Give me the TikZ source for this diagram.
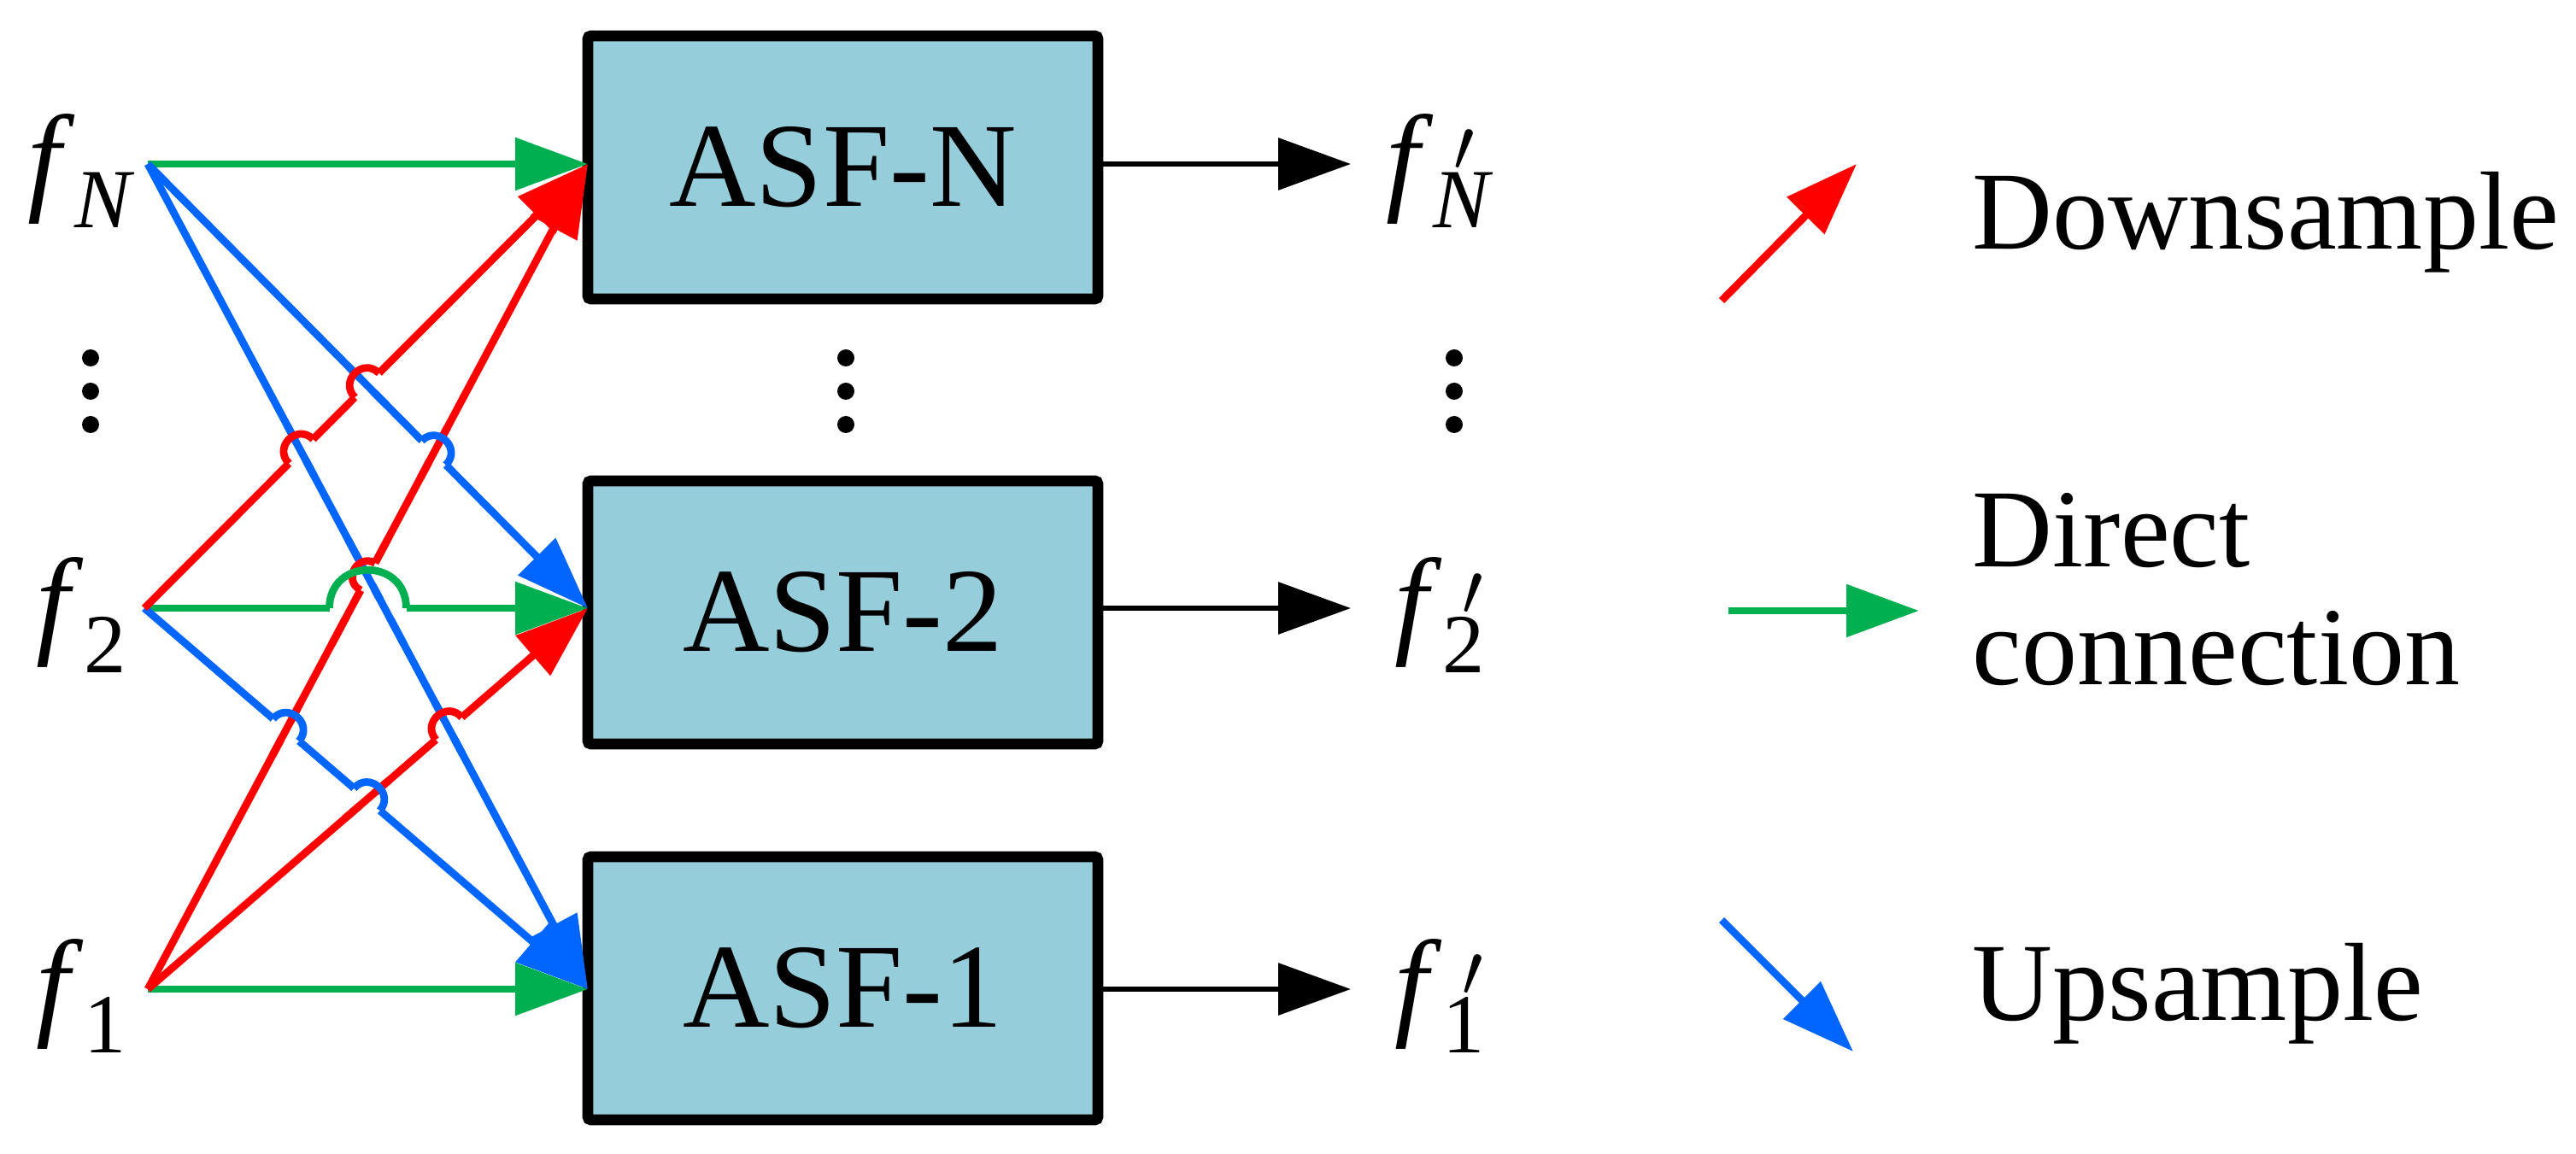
\documentclass[tikz,border=0pt]{standalone}
\usepackage{fontspec}
\setmainfont{Liberation Serif}
\usetikzlibrary{arrows.meta,calc,intersections}
\definecolor{boxc}{HTML}{96CDDB}
\definecolor{rd}{HTML}{FF0000}
\definecolor{gr}{HTML}{00B050}
\definecolor{bl}{HTML}{0066FF}
\tikzset{
 box/.style={draw=black,line width=3.6pt,fill=boxc,rounded corners=1pt,minimum width=5.97cm,minimum height=3.08cm,inner sep=0pt,font=\fontsize{40}{46}\selectfont},
 ln/.style={line width=2.5pt},
 tip/.style={-{Triangle[length=0.85cm,width=0.6cm]}},
 lab/.style={font=\fontsize{40}{46}\selectfont,inner sep=0pt},
 leg/.style={font=\fontsize{37}{42}\selectfont,inner sep=0pt,anchor=west,align=left},
 dot/.style={fill=black,circle,inner sep=0pt,minimum size=0.2cm}
}
\newcommand\myhop[8]{% S E X r col S2 E2 col2
 \draw[white,line width=6.5pt] ($(#3)!#4!(#1)$) -- ($(#3)!#4!(#2)$);
 \draw[#8,ln] ($(#3)!1.7*#4!(#6)$) -- ($(#3)!1.7*#4!(#7)$);
 \draw[#5,ln] let \p1=(#1),\p2=(#2),\n1={atan2(\y2-\y1,\x2-\x1)+90} in
   ($(#3)!#4!(#1)$) to[out=\n1,in=\n1,looseness=1.7] ($(#3)!#4!(#2)$);
}
\newcommand\fp[1]{\textit{f}\rlap{\,\textsuperscript{$\prime$}}\textsubscript{#1}}
\begin{document}
\begin{tikzpicture}
\useasboundingbox (0,0) rectangle (30.15,13.5);
% boxes
\node[box] (bN) at (9.865,11.54) {ASF-N};
\node[box] (b2) at (9.865,6.33) {ASF-2};
\node[box] (b1) at (9.865,1.93) {ASF-1};
\coordinate (TN) at (6.88,11.58);
\coordinate (T2) at (6.88,6.38);
\coordinate (T1) at (6.88,1.92);
\coordinate (FN) at (1.73,11.58);
\coordinate (F2) at (1.69,6.38);
\coordinate (F1) at (1.73,1.92);
% labels
\node[lab] (lN) at (0.96,11.5) {\textit{f}\textsubscript{\textit{N}}};
\node[lab] (l2) at (0.96,6.3) {\textit{f}\textsubscript{2}};
\node[lab] (l1) at (0.96,1.84) {\textit{f}\textsubscript{1}};
\node[lab] (oN) at (16.86,11.5) {\fp{\textit{N}}};
\node[lab] (o2) at (16.86,6.3) {\fp{2}};
\node[lab] (o1) at (16.86,1.84) {\fp{1}};
\coordinate (eN) at (15.81,11.58);
\coordinate (e2) at (15.81,6.38);
\coordinate (e1) at (15.81,1.92);
\draw[tip,line width=1.8pt] (bN.east|-eN) -- (eN);
\draw[tip,line width=1.8pt] (b2.east|-e2) -- (e2);
\draw[tip,line width=1.8pt] (b1.east|-e1) -- (e1);
% dots
\foreach \x/\n in {1.06/a,9.90/b,17.02/c}{
 \node[dot] (d1\n) at (\x,9.31) {};
 \node[dot] (d2\n) at (\x,8.92) {};
 \node[dot] (d3\n) at (\x,8.53) {};
}
% connections
\draw[gr,ln,tip] (FN) -- (TN);
\draw[gr,ln,tip] (F2) -- (T2);
\draw[gr,ln,tip] (F1) -- (T1);
\draw[bl,ln,tip,name path=bN2] (FN) -- (T2);
\draw[bl,ln,tip,name path=bN1] (FN) -- (T1);
\draw[bl,ln,tip,name path=b21] (F2) -- (T1);
\draw[rd,ln,tip,name path=r2N] (F2) -- (TN);
\draw[rd,ln,tip,name path=r1N] (F1) -- (TN);
\draw[rd,ln,tip,name path=r12] (F1) -- (T2);
\path[name intersections={of=r2N and bN1,by=x1}];
\path[name intersections={of=r2N and bN2,by=x2}];
\path[name intersections={of=bN2 and r1N,by=x3}];
\path[name intersections={of=r1N and bN1,by=x4}];
\path[name intersections={of=b21 and r1N,by=x5}];
\path[name intersections={of=b21 and r12,by=x6}];
\path[name intersections={of=r12 and bN1,by=x7}];
\myhop{F2}{TN}{x1}{0.2cm}{rd}{FN}{T1}{bl}
\myhop{F2}{TN}{x2}{0.2cm}{rd}{FN}{T2}{bl}
\myhop{FN}{T2}{x3}{0.2cm}{bl}{F1}{TN}{rd}
\myhop{F2}{T1}{x5}{0.2cm}{bl}{F1}{TN}{rd}
\myhop{F2}{T1}{x6}{0.2cm}{bl}{F1}{T2}{rd}
\myhop{F1}{T2}{x7}{0.2cm}{rd}{FN}{T1}{bl}
% green double hop
\coordinate (gX) at (x4|-F2);
\draw[white,line width=6.5pt] ($(gX)+(-0.45,0)$) -- ($(gX)+(0.45,0)$);
\draw[rd,ln] ($(x4)!-0.9cm!(TN)$) -- ($(x4)!0.5cm!(TN)$);
\draw[bl,ln] ($(x4)!-0.9cm!(FN)$) -- ($(x4)!0.5cm!(FN)$);
\myhop{F1}{TN}{x4}{0.18cm}{rd}{FN}{T1}{bl}
\draw[gr,ln] ($(gX)+(-0.45,0)$) to[out=90,in=90,looseness=1.7] ($(gX)+(0.45,0)$);
% legend
\coordinate (a1) at (20.15,9.98);
\coordinate (a2) at (21.73,11.58);
\coordinate (a3) at (20.23,6.35);
\coordinate (a4) at (22.46,6.35);
\coordinate (a5) at (20.15,2.73);
\coordinate (a6) at (21.69,1.19);
\draw[rd,ln,tip] (a1) -- (a2);
\draw[gr,ln,tip] (a3) -- (a4);
\draw[bl,ln,tip] (a5) -- (a6);
\node[leg] (t1) at (23.08,10.9) {Downsample};
\node[leg] (t2) at (23.08,6.6) {Direct\\[-0.1cm]connection};
\node[leg] (t3) at (23.08,1.87) {Upsample};
\end{tikzpicture}
\end{document}
